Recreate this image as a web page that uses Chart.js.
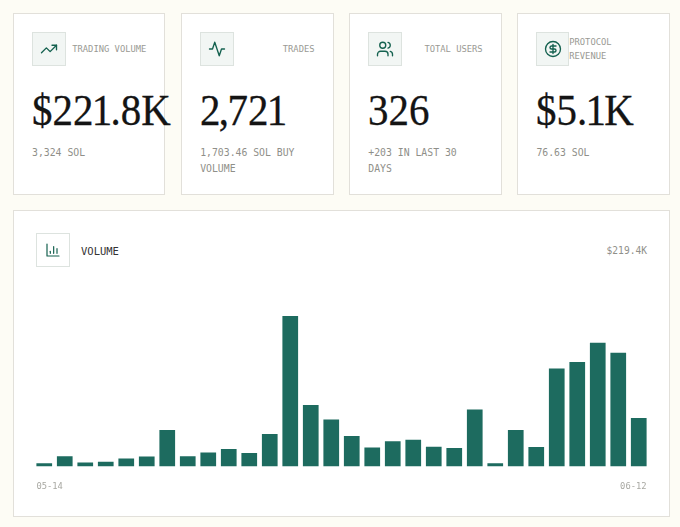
<!DOCTYPE html>
<html>
<head>
<meta charset="utf-8">
<script src="https://cdn.jsdelivr.net/npm/chart.js@4"></script>
<style>
* { box-sizing: border-box; }
html, body { margin: 0; height: 527px; overflow: hidden; background: #fdfcf5; }
body { padding: 12.5px 10px 0 13px; font-family: "DejaVu Sans Mono", monospace; }
.cards { display: grid; grid-template-columns: repeat(4, 152.4px); gap: 15.75px; }
.card { position: relative; height: 182.5px; background: #fff; border: 1px solid #e2e0da; padding: 18px; }
.head { display: flex; justify-content: space-between; align-items: center; height: 34px; }
.icon { width: 34px; height: 34px; display: flex; align-items: center; justify-content: center; background: #f2f6f4; border: 1px solid #dde3df; }
.icon svg { width: 18px; height: 18px; fill: none; stroke: #14614f; stroke-width: 1.8; stroke-linecap: round; stroke-linejoin: round; }
.label { font-size: 8.8px; line-height: 14px; color: #9a9a94; text-transform: uppercase; }
.value { margin-top: 20px; font-family: "Liberation Serif", serif; font-size: 44px; line-height: 50px; color: #141414; white-space: nowrap; -webkit-text-stroke: 0.3px #141414; transform: scaleX(0.93); transform-origin: left center; }
.value span { margin: 0 -0.04em; }
.sub { margin-top: 9px; font-size: 9.8px; line-height: 16px; color: #8f8f89; }
.panel { position: relative; width: 657px; height: 307px; margin-top: 15px; background: #fff; border: 1px solid #e2e0da; }
.panel .icon { position: absolute; left: 22px; top: 22px; background: #fff; }
.panel .icon svg { width: 16px; height: 16px; }
.panel .title { position: absolute; left: 67px; top: 33px; font-size: 10.5px; line-height: 14px; color: #333; }
.panel .total { position: absolute; right: 22px; top: 33px; font-size: 9.6px; line-height: 14px; color: #8f8f89; }
.plot { position: absolute; left: 19.6px; top: 105px; width: 615px; height: 191px; }
</style>
</head>
<body>
<div class="cards" id="cards"></div>
<div class="panel">
  <div class="icon"><svg viewBox="0 0 24 24"><path d="M3 3v18h18"/><path d="M8 17v-3"/><path d="M13 17V7"/><path d="M18 17v-7"/></svg></div>
  <div class="title">VOLUME</div>
  <div class="total" id="total"></div>
  <div class="plot"><canvas id="volumeChart"></canvas></div>
</div>
<script>
const cardLabels = ['Trading Volume', 'Trades', 'Total Users', 'Protocol Revenue'];
const cardValues = ['$221.8K', '2,721', '326', '$5.1K'];
const cardSubs = ['3,324 SOL', '1,703.46 SOL BUY VOLUME', '+203 IN LAST 30 DAYS', '76.63 SOL'];
const cardIcons = [
    '<path d="M22 7l-8.5 8.5-5-5L2 17"/><path d="M16 7h6v6"/>',
    '<path d="M22 12h-4l-3 9L9 3l-3 9H2"/>',
    '<path d="M16 21v-2a4 4 0 0 0-4-4H6a4 4 0 0 0-4 4v2"/><circle cx="9" cy="7" r="4"/><path d="M22 21v-2a4 4 0 0 0-3-3.87"/><path d="M16 3.13a4 4 0 0 1 0 7.75"/>',
    '<circle cx="12" cy="12" r="10"/><path d="M16 8h-6a2 2 0 1 0 0 4h4a2 2 0 1 1 0 4H8"/><path d="M12 18V6"/>'
];

const totalVolume = '$219.4K';
const dates = ['05-14', '05-15', '05-16', '05-17', '05-18', '05-19', '05-20', '05-21', '05-22', '05-23',
    '05-24', '05-25', '05-26', '05-27', '05-28', '05-29', '05-30', '05-31', '06-01', '06-02',
    '06-03', '06-04', '06-05', '06-06', '06-07', '06-08', '06-09', '06-10', '06-11', '06-12'];
const volumes = [620, 1940, 750, 890, 1510, 1890, 6850, 1940, 2640, 3260,
    2510, 6090, 28300, 11560, 8810, 5710, 3580, 4720, 5040, 3720,
    3450, 10690, 620, 6850, 3640, 18430, 19670, 23250, 21370, 9110];
const barShare = 0.766;

// the serif we have sets 1 and comma wider than the reference face
const tightValue = v => v.replace(/[1,]/g, '<span>$&</span>');

document.getElementById('cards').innerHTML = cardLabels.map((label, i) => `
    <div class="card">
        <div class="head">
            <div class="icon"><svg viewBox="0 0 24 24">${cardIcons[i]}</svg></div>
            <div class="label">${label}</div>
        </div>
        <div class="value">${tightValue(cardValues[i])}</div>
        <div class="sub">${cardSubs[i]}</div>
    </div>`).join('');
document.getElementById('total').textContent = totalVolume;

new Chart(document.getElementById('volumeChart'), {
    type: 'bar',
    data: {
        labels: dates,
        datasets: [{
            data: volumes,
            backgroundColor: '#1d6b5f',
            barPercentage: barShare,
            categoryPercentage: 1
        }]
    },
    options: {
        responsive: true,
        maintainAspectRatio: false,
        animation: false,
        plugins: { legend: { display: false }, tooltip: { enabled: false } },
        layout: { padding: 0 },
        scales: {
            y: { display: false, min: 0, max: 28300 },
            x: { display: false },
            // runs in bar slots, two ticks only: outer edge of the first and last bar
            dateEnds: {
                type: 'linear',
                position: 'bottom',
                min: 0,
                max: dates.length,
                offset: false,
                grid: { display: false, drawTicks: false },
                border: { display: false },
                afterBuildTicks: scale => {
                    const inset = (1 - barShare) / 2;
                    scale.ticks = [{ value: inset }, { value: dates.length - inset }];
                },
                afterFit: scale => { scale.paddingLeft = 0; scale.paddingRight = 0; },
                ticks: {
                    autoSkip: false,
                    maxRotation: 0,
                    align: 'inner',
                    padding: 15,
                    color: '#a8a8a2',
                    font: { family: 'DejaVu Sans Mono', size: 8.8 },
                    callback: (v, i) => i === 0 ? dates[0] : dates[dates.length - 1]
                }
            }
        }
    }
});
</script>
</body>
</html>
